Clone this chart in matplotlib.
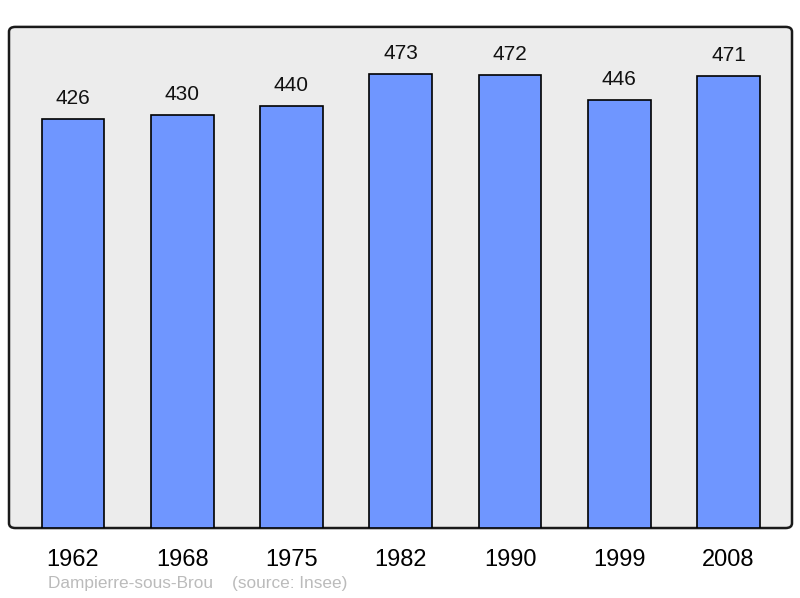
import matplotlib
matplotlib.use('Agg')
import matplotlib.pyplot as plt
from matplotlib.patches import FancyBboxPatch

years = ['1962', '1968', '1975', '1982', '1990', '1999', '2008']
population = [426, 430, 440, 473, 472, 446, 471]

plt.rcParams['font.family'] = ['Liberation Sans', 'DejaVu Sans']

fig = plt.figure(figsize=(8, 5.98), dpi=100)
ax = fig.add_axes([0.01125, 0.117, 0.97875, 0.838])
ax.set_facecolor('none')

# rounded frame behind the axes
frame = FancyBboxPatch((0.01125, 0.117), 0.97875, 0.838,
                       boxstyle='round,pad=0,rounding_size=0.008',
                       transform=fig.transFigure, facecolor='#ececec',
                       edgecolor='#1a1a1a', linewidth=1.8, zorder=-1)
fig.patches.append(frame)

x = range(len(years))
ax.bar(x, population, width=0.575, color='#6f96ff', edgecolor='black',
       linewidth=1.2, zorder=2)

for i, v in enumerate(population):
    ax.annotate(str(v), (i, v), xytext=(0, 8), textcoords='offset points',
                ha='center', va='bottom', fontsize=15, color='#111111')

ax.set_xlim(-0.585, 6.58)
ax.set_ylim(0, 522)
for s in ax.spines.values():
    s.set_visible(False)
ax.set_yticks([])
ax.set_xticks(list(x))
ax.set_xticklabels(years, fontsize=17)
ax.tick_params(axis='x', length=0, pad=15)

fig.text(0.06, 0.011, 'Dampierre-sous-Brou    (source: Insee)',
         fontsize=12.4, color='#bbbbbb', ha='left', va='bottom')

fig.savefig('out.png', dpi=100)
